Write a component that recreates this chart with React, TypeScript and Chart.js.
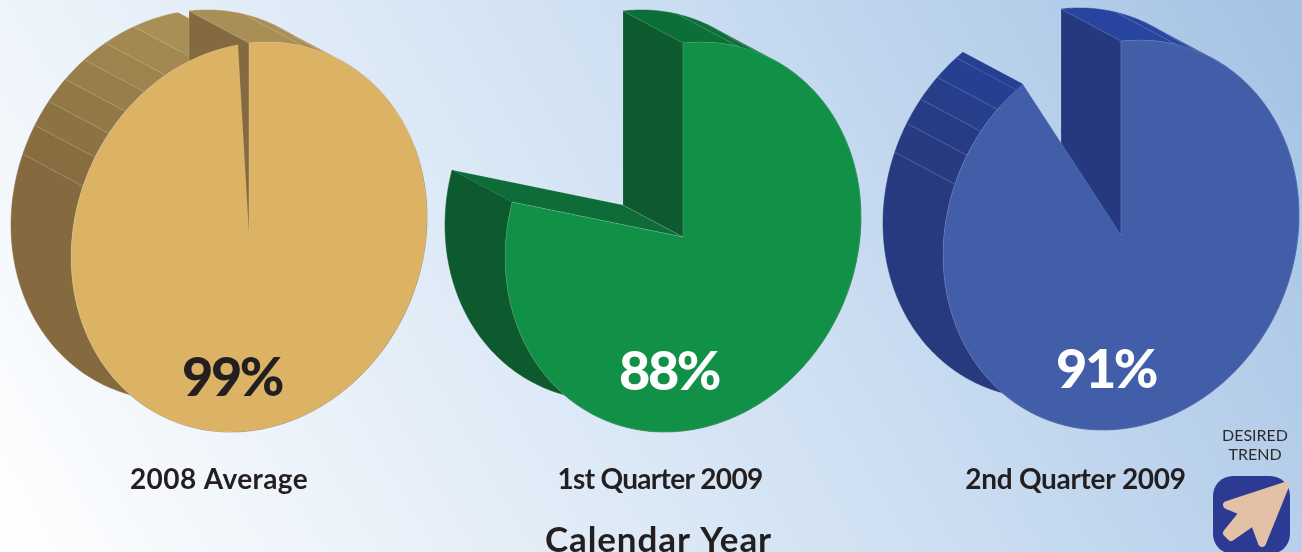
import React, { useEffect, useRef } from "react";
import { Chart, registerables } from "chart.js";

Chart.register(...registerables);

const categories = ["2008 Average", "1st Quarter 2009", "2nd Quarter 2009"];
const percentLabels = ["99%", "88%", "91%"];
const filledShare = [99, 79.5, 90.7];
const openShare = [1, 20.5, 9.3];
const axisTitle = "Calendar Year";
const trendLines = ["DESIRED", "TREND"];

const faceColors = ["#dcb264", "#119147", "#425ea9"];
const rimLight = ["#a98f55", "#0d6f38", "#27459f"];
const rimDark = ["#846a3e", "#0c5a2d", "#27397f"];
const startWall = ["#846a3e", "#0c5a2d", "#263880"];
const endWall = ["#846a3e", "#0d6c38", "#263880"];
const percentColors = ["#231f20", "#ffffff", "#ffffff"];

const centerX = [249, 683, 1121];
const centerY = [237, 237, 235];
const percentX = [232, 669, 1106];
const percentBase = [396, 390, 388];
const titleX = [219, 660, 1075.5];
const titleSpacing = ["0.4px", "-0.7px", "-0.3px"];
const RX = 178;
const RY = 194;
const SHEAR = -20;
const DX = -60;
const DY = -32;
const facetEdges = [18, 28, 36, 44, 52, 60, 69];

const FONT = "Lato, 'Open Sans', sans-serif";

function hexMix(a: string, b: string, t: number) {
  const p = (h: string, i: number) => parseInt(h.slice(i, i + 2), 16);
  const c = [1, 3, 5].map((i) => Math.round(p(a, i) + (p(b, i) - p(a, i)) * t));
  return `rgb(${c[0]},${c[1]},${c[2]})`;
}

function rimPlugin(i: number) {
  const cx = centerX[i];
  const cy = centerY[i];
  const pt = (a: number) => ({
    x: cx + RX * Math.cos(a),
    y: cy + RY * Math.sin(a) + SHEAR * Math.cos(a),
  });
  return {
    id: "rim" + i,
    beforeDatasetsDraw(chart: any) {
      const arc = chart.getDatasetMeta(0).data[0];
      const ctx = chart.ctx;
      const start = arc.startAngle;
      const end = arc.endAngle;
      const deg = (d: number) => (d * Math.PI) / 180 - Math.PI / 2;
      const cuts = [
        ...facetEdges,
        ...facetEdges.map((d) => 360 - d).reverse(),
      ]
        .map(deg)
        .filter((a) => a > start && a < end);
      const bounds = [start, ...cuts, end];

      const wall = (a: number, color: string) => {
        const p = pt(a);
        ctx.beginPath();
        ctx.moveTo(cx, cy);
        ctx.lineTo(p.x, p.y);
        ctx.lineTo(p.x + DX, p.y + DY);
        ctx.lineTo(cx + DX, cy + DY);
        ctx.closePath();
        ctx.fillStyle = color;
        ctx.fill();
        ctx.strokeStyle = "rgba(255,255,255,0.22)";
        ctx.lineWidth = 0.6;
        ctx.stroke();
      };

      ctx.save();
      wall(end, endWall[i]);
      // facets of the curved rim
      for (let k = 0; k < bounds.length - 1; k++) {
        const a0 = bounds[k];
        const a1 = bounds[k + 1];
        const mid = (((a0 + a1) / 2 + Math.PI / 2) * 180) / Math.PI;
        const d = 360 - mid;
        const t = mid > 75 ? Math.max(0, Math.min(1, (d - 14) / 55)) : 0;
        const color = hexMix(rimLight[i], rimDark[i], t);
        const n = Math.max(2, Math.ceil((a1 - a0) / 0.02));
        ctx.beginPath();
        for (let s = 0; s <= n; s++) {
          const p = pt(a0 + ((a1 - a0) * s) / n);
          if (s === 0) ctx.moveTo(p.x, p.y);
          else ctx.lineTo(p.x, p.y);
        }
        for (let s = n; s >= 0; s--) {
          const p = pt(a0 + ((a1 - a0) * s) / n);
          ctx.lineTo(p.x + DX, p.y + DY);
        }
        ctx.closePath();
        ctx.fillStyle = color;
        ctx.strokeStyle = color;
        ctx.lineWidth = 0.5;
        ctx.fill();
        ctx.stroke();
      }
      // thin seams between facets
      ctx.strokeStyle = "rgba(255,255,255,0.22)";
      ctx.lineWidth = 0.7;
      for (const a of cuts) {
        const p = pt(a);
        ctx.beginPath();
        ctx.moveTo(p.x, p.y);
        ctx.lineTo(p.x + DX, p.y + DY);
        ctx.stroke();
      }
      wall(start, startWall[i]);
      ctx.restore();

      // flatten the pie face into the tilted ellipse
      const r = arc.outerRadius;
      const sx = RX / r;
      const sy = RY / r;
      const sh = SHEAR / r;
      ctx.save();
      ctx.transform(sx, sh, 0, sy, cx - arc.x * sx, cy - arc.y * sy - arc.x * sh);
    },
    afterDatasetsDraw(chart: any) {
      chart.ctx.restore();
    },
    afterDraw(chart: any) {
      const ctx = chart.ctx;
      ctx.save();
      ctx.textAlign = "center";
      ctx.textBaseline = "alphabetic";
      ctx.fillStyle = percentColors[i];
      ctx.font = `900 54px ${FONT}`;
      ctx.letterSpacing = "-2.5px";
      ctx.fillText(percentLabels[i], percentX[i], percentBase[i]);
      ctx.fillStyle = "#231f20";
      ctx.font = `700 28px ${FONT}`;
      ctx.letterSpacing = titleSpacing[i];
      ctx.fillText(categories[i], titleX[i], 489);
      if (i === 1) {
        ctx.font = `700 35px ${FONT}`;
        ctx.letterSpacing = "0.9px";
        ctx.fillText(axisTitle, 658.5, 552);
      }
      if (i === 2) {
        ctx.fillStyle = "#2b2b2b";
        ctx.letterSpacing = "0px";
        ctx.font = `400 16px ${FONT}`;
        ctx.fillText(trendLines[0], 1255, 441);
        ctx.fillText(trendLines[1], 1255, 460);
      }
      ctx.restore();
    },
  };
}

function Pie({ index }: { index: number }) {
  const ref = useRef<HTMLCanvasElement>(null);
  useEffect(() => {
    const chart = new Chart(ref.current as HTMLCanvasElement, {
      type: "pie",
      data: {
        labels: [categories[index], "gap"],
        datasets: [
          {
            data: [filledShare[index], openShare[index]],
            backgroundColor: [faceColors[index], "rgba(0,0,0,0)"],
            borderColor: ["rgba(255,255,255,0.25)", "rgba(0,0,0,0)"],
            borderWidth: [0.7, 0],
            clip: false,
          } as any,
        ],
      },
      options: {
        responsive: false,
        animation: false,
        events: [],
        plugins: { legend: { display: false }, tooltip: { enabled: false }, title: { display: false } },
      },
      plugins: [rimPlugin(index)],
    } as any);
    return () => chart.destroy();
  }, [index]);
  return (
    <canvas
      ref={ref}
      width={1302}
      height={552}
      style={{ position: "absolute", left: 0, top: 0, width: 1302, height: 552 }}
    />
  );
}

export default function App() {
  return (
    <div
      style={{
        position: "fixed",
        left: 0,
        top: 0,
        width: 1302,
        height: 552,
        overflow: "hidden",
        background: "linear-gradient(60deg, #ffffff 0%, #d0e1f3 55%, #a5c2e4 100%)",
      }}
    >
      {categories.map((_, i) => (
        <Pie key={i} index={i} />
      ))}
      <svg width={1302} height={552} style={{ position: "absolute", left: 0, top: 0 }}>
        <rect x={1213} y={476} width={77} height={78} rx={20} fill="#2d3a94" />
        <path
          d="M1285 486 L1227 505 L1244 512 L1227 533 L1231 537 L1254 521 L1262 543 Z"
          fill="#e3c1a6"
          stroke="#e3c1a6"
          strokeWidth={8}
          strokeLinejoin="round"
        />
      </svg>
    </div>
  );
}
